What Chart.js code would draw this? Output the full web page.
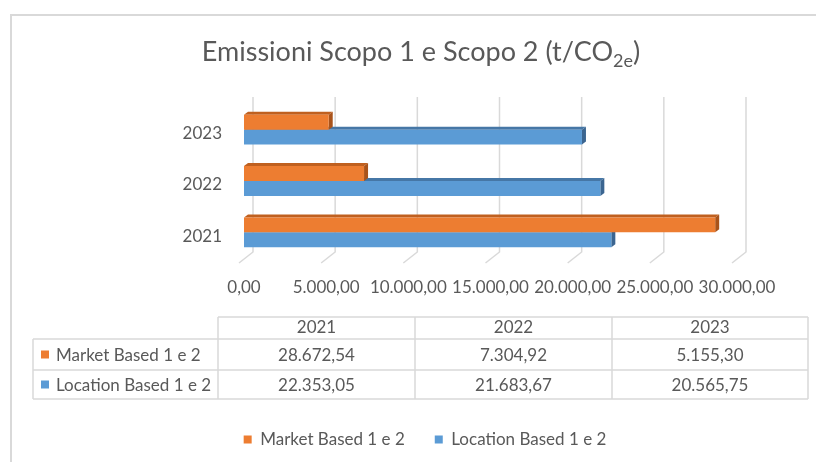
<!DOCTYPE html>
<html>
<head>
<meta charset="utf-8">
<script src="https://cdn.jsdelivr.net/npm/chart.js@4.4.0/dist/chart.umd.min.js"></script>
<style>
html, body { margin: 0; padding: 0; background: #fff; }
#wrap { width: 816px; height: 462px; }
</style>
</head>
<body>
<div id="wrap"><canvas id="grafico" width="816" height="462"></canvas></div>
<script>
// dati
var anni = ['2021', '2022', '2023'];
var marketBased = [28672.54, 7304.92, 5155.30];
var locationBased = [22353.05, 21683.67, 20565.75];
var serieNomi = ['Market Based 1 e 2', 'Location Based 1 e 2'];
var tickValori = [0, 5000, 10000, 15000, 20000, 25000, 30000];

var colori = ['#ed7d31', '#5b9bd5'];
var coloriTop = ['#c0601f', '#4677a6'];
var coloriLato = ['#a9531a', '#3b6590'];
var grigio = '#595959';
var font = 'Lato, "Open Sans", sans-serif';

function fmt(v) {
	var p = Number(v).toFixed(2).split('.');
	return p[0].replace(/\B(?=(\d{3})+(?!\d))/g, '.') + ',' + p[1];
}

// bordo + titolo con pedice
var cornice = {
	id: 'cornice',
	beforeDraw: function(chart) {
		var c = chart.ctx;
		c.save();
		c.fillStyle = '#fff';
		c.fillRect(0, 0, chart.width, chart.height);
		c.strokeStyle = '#d9d9d9';
		c.lineWidth = 2;
		c.beginPath();
		c.moveTo(11, chart.height);
		c.lineTo(11, 15);
		c.lineTo(chart.width, 15);
		c.stroke();
		c.restore();
	},
	afterDraw: function(chart) {
		var c = chart.ctx;
		c.save();
		c.fillStyle = grigio;
		c.textBaseline = 'alphabetic';
		c.font = '27px ' + font;
		var t1 = 'Emissioni Scopo 1 e Scopo 2 (t/CO';
		var w1 = c.measureText(t1).width;
		c.font = '18px ' + font;
		var w2 = c.measureText('2e').width;
		c.font = '27px ' + font;
		var w3 = c.measureText(')').width;
		var x = 421 - (w1 + w2 + w3) / 2;
		c.textAlign = 'left';
		c.fillText(t1, x, 61);
		c.font = '18px ' + font;
		c.fillText('2e', x + w1, 67);
		c.font = '27px ' + font;
		c.fillText(')', x + w1 + w2, 61);
		c.restore();
	}
};

// griglia "3D" dietro le barre
var griglia = {
	id: 'griglia',
	beforeDatasetsDraw: function(chart) {
		var c = chart.ctx;
		var xs = chart.scales.x;
		c.save();
		c.strokeStyle = '#d9d9d9';
		c.lineWidth = 1.5;
		for (var i = 0; i < tickValori.length; i++) {
			var px = xs.getPixelForValue(tickValori[i]);
			c.beginPath();
			c.moveTo(px + 9, 97);
			c.lineTo(px + 9, 252);
			c.lineTo(px - 5, 263);
			c.stroke();
		}
		c.restore();
	}
};

// facce superiore e laterale delle barre
var barre3d = {
	id: 'barre3d',
	beforeDatasetDraw: function(chart, args) {
		var c = chart.ctx;
		var meta = chart.getDatasetMeta(args.index);
		var dx = 4, dy = 3;
		c.save();
		meta.data.forEach(function(el) {
			var top = el.y - el.height / 2, bot = el.y + el.height / 2;
			c.fillStyle = coloriTop[args.index];
			c.beginPath();
			c.moveTo(el.base, top);
			c.lineTo(el.base + dx, top - dy);
			c.lineTo(el.x + dx, top - dy);
			c.lineTo(el.x, top);
			c.closePath();
			c.fill();
			c.fillStyle = coloriLato[args.index];
			c.beginPath();
			c.moveTo(el.x, top);
			c.lineTo(el.x + dx, top - dy);
			c.lineTo(el.x + dx, bot - dy);
			c.lineTo(el.x, bot);
			c.closePath();
			c.fill();
		});
		c.restore();
	}
};

// tabella dati sotto l'asse
var tabella = {
	id: 'tabella',
	afterDraw: function(chart) {
		var c = chart.ctx;
		var cols = [218, 415, 612, 808];
		var left = 33;
		var rows = [317, 339, 370, 399];
		c.save();
		c.strokeStyle = '#d9d9d9';
		c.lineWidth = 1.5;
		c.beginPath();
		// righe orizzontali
		c.moveTo(cols[0], rows[0]); c.lineTo(cols[3], rows[0]);
		for (var r = 1; r < rows.length; r++) {
			c.moveTo(left, rows[r]); c.lineTo(cols[3], rows[r]);
		}
		// verticali
		c.moveTo(left, rows[1]); c.lineTo(left, rows[3]);
		for (var k = 0; k < cols.length; k++) {
			c.moveTo(cols[k], rows[0]); c.lineTo(cols[k], rows[3]);
		}
		c.stroke();

		c.fillStyle = grigio;
		c.font = '17px ' + font;
		c.textAlign = 'center';
		c.textBaseline = 'middle';
		var serie = [marketBased, locationBased];
		for (var j = 0; j < anni.length; j++) {
			var cx = (cols[j] + cols[j + 1]) / 2;
			c.fillText(anni[j], cx, (rows[0] + rows[1]) / 2);
			for (var s = 0; s < serie.length; s++) {
				c.fillText(fmt(serie[s][j]), cx, (rows[s + 1] + rows[s + 2]) / 2 + 1);
			}
		}
		c.textAlign = 'left';
		for (var s2 = 0; s2 < serieNomi.length; s2++) {
			var cy = (rows[s2 + 1] + rows[s2 + 2]) / 2;
			c.fillStyle = colori[s2];
			c.fillRect(41, cy - 4, 8, 8);
			c.fillStyle = grigio;
			c.fillText(serieNomi[s2], 56, cy + 1);
		}
		c.restore();
	}
};

var ctx = document.getElementById('grafico').getContext('2d');

var grafico = new Chart(ctx, {
	type: 'bar',
	data: {
		labels: anni.slice().reverse(),
		datasets: [
			{ label: serieNomi[0], data: marketBased.slice().reverse(), backgroundColor: colori[0], borderWidth: 0 },
			{ label: serieNomi[1], data: locationBased.slice().reverse(), backgroundColor: colori[1], borderWidth: 0 }
		]
	},
	options: {
		indexAxis: 'y',
		responsive: false,
		animation: false,
		categoryPercentage: 0.58,
		barPercentage: 1,
		layout: { padding: { top: 104, left: 113, right: 79, bottom: 4 } },
		scales: {
			x: {
				min: 0,
				max: 30000,
				grid: { display: false, drawTicks: false },
				border: { display: false },
				ticks: {
					stepSize: 5000,
					autoSkip: false,
					maxRotation: 0,
					padding: 19,
					color: grigio,
					font: { family: font, size: 17 },
					callback: function(v) { return fmt(v); }
				},
				afterFit: function(s) { s.height = 143; }
			},
			y: {
				grid: { display: false, drawTicks: false },
				border: { display: false },
				ticks: {
					padding: 22,
					labelOffset: 4,
					color: grigio,
					font: { family: font, size: 17 }
				},
				afterFit: function(s) { s.width = 131; }
			}
		},
		plugins: {
			legend: {
				position: 'bottom',
				labels: {
					boxWidth: 8,
					boxHeight: 8,
					padding: 30,
					color: grigio,
					font: { family: font, size: 17 }
				}
			},
			tooltip: { enabled: false }
		}
	},
	plugins: [cornice, griglia, barre3d, tabella]
});
</script>
</body>
</html>
